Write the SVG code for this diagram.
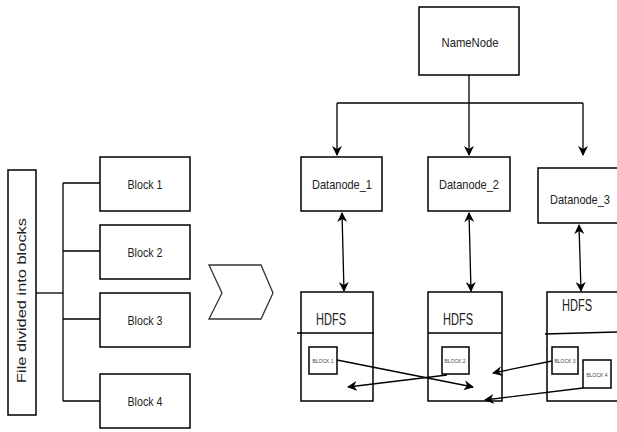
<svg xmlns="http://www.w3.org/2000/svg" width="617" height="432" viewBox="0 0 617 432">
<defs>
<style>
.box{fill:#fff;stroke:#000;stroke-width:1.5}
.ln{fill:none;stroke:#000;stroke-width:1.3}
.t{font-family:"Liberation Sans",Arial,sans-serif;font-size:13.5px;fill:#222;text-anchor:middle}
.h{font-size:16px}
.s{font-family:"Liberation Sans",Arial,sans-serif;font-size:5px;fill:#444;text-anchor:middle}
</style>
<marker id="ah" viewBox="0 0 10 10" refX="9" refY="5" markerWidth="10" markerHeight="10" orient="auto-start-reverse" markerUnits="userSpaceOnUse">
<path d="M0,0 L10,5 L0,10 L3,5 Z" fill="#000"/>
</marker>
</defs>
<rect width="617" height="432" fill="#fff"/>
<g id="file">
<rect class="box" x="8" y="170" width="28" height="245"/>
<text class="t" transform="translate(26,383) rotate(-90)" style="font-size:13.5px;text-anchor:start" textLength="165" lengthAdjust="spacingAndGlyphs">File divided into blocks</text>
</g>
<g id="block1"><rect class="box" x="100" y="157" width="90" height="54"/><text class="t" x="145" y="189" textLength="35" lengthAdjust="spacingAndGlyphs">Block 1</text></g>
<g id="block2"><rect class="box" x="100" y="225" width="90" height="54"/><text class="t" x="145" y="257" textLength="35" lengthAdjust="spacingAndGlyphs">Block 2</text></g>
<g id="block3"><rect class="box" x="100" y="293" width="90" height="54"/><text class="t" x="145" y="325" textLength="35" lengthAdjust="spacingAndGlyphs">Block 3</text></g>
<g id="block4"><rect class="box" x="100" y="374" width="90" height="54"/><text class="t" x="145" y="406" textLength="35" lengthAdjust="spacingAndGlyphs">Block 4</text></g>
<g id="chevron"><polygon points="209,265 261,265 273,293 261,319 209,319 222,293" fill="#fff" stroke="#333" stroke-width="1.3"/></g>
<g id="namenode"><rect class="box" x="419" y="7" width="100" height="68"/><text class="t" x="470" y="47" textLength="57" lengthAdjust="spacingAndGlyphs">NameNode</text></g>
<g id="datanode1"><rect class="box" x="301" y="157" width="81" height="54"/><text class="t" x="342" y="189" textLength="60" lengthAdjust="spacingAndGlyphs">Datanode_1</text></g>
<g id="datanode2"><rect class="box" x="428" y="157" width="82" height="54"/><text class="t" x="469" y="189" textLength="60" lengthAdjust="spacingAndGlyphs">Datanode_2</text></g>
<g id="datanode3"><rect class="box" x="538" y="168" width="90" height="55"/><text class="t" x="580" y="204" textLength="60" lengthAdjust="spacingAndGlyphs">Datanode_3</text></g>
<g id="hdfs1"><rect class="box" x="301" y="292" width="72" height="109"/><line class="ln" x1="297" y1="333" x2="374" y2="333"/><text class="t h" x="331" y="325" textLength="30" lengthAdjust="spacingAndGlyphs">HDFS</text></g>
<g id="hdfs2"><rect class="box" x="428" y="292" width="74" height="109"/><line class="ln" x1="428" y1="333" x2="502" y2="333"/><text class="t h" x="458" y="325" textLength="30" lengthAdjust="spacingAndGlyphs">HDFS</text></g>
<g id="hdfs3"><rect class="box" x="547" y="292" width="80" height="109"/><line class="ln" x1="545" y1="334" x2="617" y2="332"/><text class="t h" x="577" y="311" textLength="30" lengthAdjust="spacingAndGlyphs">HDFS</text></g>
<g id="blk1"><rect class="box" x="309" y="347" width="28" height="27" stroke-width="1.2"/><text class="s" x="323" y="363">BLOCK 1</text></g>
<g id="blk2"><rect class="box" x="442" y="347" width="27" height="27" stroke-width="1.2"/><text class="s" x="455" y="363">BLOCK 2</text></g>
<g id="blk3"><rect class="box" x="552" y="347" width="26" height="27" stroke-width="1.2"/><text class="s" x="565" y="363">BLOCK 3</text></g>
<g id="blk4"><rect class="box" x="583" y="360" width="28" height="28" stroke-width="1.2"/><text class="s" x="597" y="377">BLOCK 4</text></g>
<g id="connectors">
<polyline class="ln" points="36,293 63,293"/>
<line class="ln" x1="63" y1="183" x2="63" y2="401"/>
<line class="ln" x1="63" y1="183" x2="100" y2="183"/>
<line class="ln" x1="63" y1="251" x2="100" y2="251"/>
<line class="ln" x1="63" y1="319" x2="100" y2="319"/>
<line class="ln" x1="63" y1="401" x2="100" y2="401"/>
<line class="ln" x1="469" y1="75" x2="469" y2="103"/>
<line class="ln" x1="337" y1="103" x2="583" y2="103"/>
<line class="ln" x1="337" y1="103" x2="337" y2="155" marker-end="url(#ah)"/>
<line class="ln" x1="469" y1="103" x2="469" y2="155" marker-end="url(#ah)"/>
<line class="ln" x1="583" y1="103" x2="583" y2="155" marker-end="url(#ah)"/>
<line class="ln" x1="342" y1="213" x2="344" y2="291" marker-start="url(#ah)" marker-end="url(#ah)"/>
<line class="ln" x1="469" y1="213" x2="471" y2="291" marker-start="url(#ah)" marker-end="url(#ah)"/>
<line class="ln" x1="579" y1="225" x2="581" y2="291" marker-start="url(#ah)" marker-end="url(#ah)"/>
<line class="ln" x1="337" y1="360" x2="473" y2="387" marker-end="url(#ah)"/>
<line class="ln" x1="447" y1="375" x2="348" y2="387" marker-end="url(#ah)"/>
<line class="ln" x1="552" y1="361" x2="493" y2="373" marker-end="url(#ah)"/>
<line class="ln" x1="583" y1="388" x2="485" y2="400" marker-end="url(#ah)"/>
</g>
</svg>
